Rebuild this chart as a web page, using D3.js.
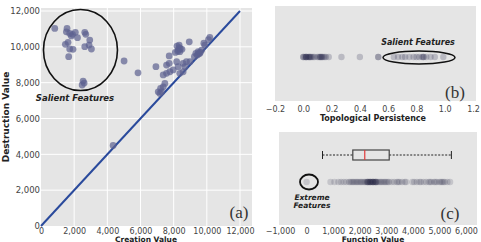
<!DOCTYPE html>
<html>
<head>
<meta charset="utf-8">
<script src="https://d3js.org/d3.v7.min.js"></script>
<style>
  body { margin: 0; background: #fff; }
  text { font-family: "DejaVu Sans", sans-serif; }
</style>
</head>
<body>
<script>
var width = 481;
var height = 242;

// (a) persistence diagram
var creation = [830, 1570, 1530, 1730, 1900, 2070, 1830, 2200, 2640, 2700, 2940, 1470, 1630, 1730,
  1930, 1670, 2640, 2900, 3040, 2540, 2480, 2600, 5010, 5850, 4350, 6930, 7730, 8330, 8270, 8370,
  8100, 8500, 8940, 9340, 9480, 9580, 9420, 9690, 9250, 9880, 7730, 7570, 8180, 8270, 7970, 7770,
  7570, 7370, 8370, 8570, 8680, 8980, 7470, 7370, 7210, 7070, 7270, 7170, 8570, 8330, 8200, 9820,
  10180, 8770, 8400, 8250, 9600, 9500, 10100];
var destruction = [11030, 11030, 10840, 10750, 10700, 10810, 10610, 10510, 10810, 10700, 10380, 10140, 10250, 9880,
  9860, 9450, 10010, 10100, 9880, 8090, 7870, 7980, 9210, 8550, 4500, 8890, 9490, 10100, 9820, 9730,
  9690, 9860, 10280, 9640, 9730, 9640, 9540, 9820, 9450, 10100, 9080, 8980, 9170, 8890, 8710, 8610,
  8520, 8430, 8520, 8610, 8890, 9170, 7960, 7770, 7680, 7490, 7490, 7400, 9080, 9950, 10040, 10200,
  10530, 9170, 9900, 9750, 9700, 9600, 10400];
var aTicks = [0, 2000, 4000, 6000, 8000, 10000, 12000];

// (b) topological persistence
var persistence = [0.0, 0.0, 0.01, 0.02, 0.02, 0.03, 0.04, 0.05, 0.05, 0.06, 0.07, 0.08, 0.10, 0.11,
  0.12, 0.12, 0.13, 0.14, 0.15, 0.16, 0.18, 0.02, 0.04, 0.13, 0.27, 0.40, 0.53, 0.53,
  0.64, 0.67, 0.70, 0.72, 0.75, 0.78, 0.80, 0.82, 0.84, 0.85, 0.85, 0.87, 0.90, 0.93, 0.99];
var bTicks = [-0.2, 0.0, 0.2, 0.4, 0.6, 0.8, 1.0, 1.2];

// (c) function values
var funcValues = [0, 900, 1050, 1200, 1300, 1400, 1500, 1600, 1650, 1700, 1750, 1800, 1850, 1900, 1950,
  2000, 2050, 2100, 2150, 2200, 2250, 2280, 2300, 2320, 2350, 2380, 2400, 2420, 2450, 2480, 2500,
  2520, 2550, 2580, 2600, 2620, 2650, 2700, 2750, 2800, 2850, 2900, 2950, 3000, 2300, 2400, 2500,
  2600, 3050, 3100, 3200, 3300, 3400, 3450, 3500, 3600, 3700, 3750, 3980, 4050, 4150, 4250, 4300,
  4400, 4500, 4600, 4650, 4700, 4800, 4850, 4900, 5000, 5050, 5100, 5150, 5200, 5300, 5400];
var boxStats = [600, 1740, 2190, 3110, 5450]; // whisker low, q1, median, q3, whisker high
var cTicks = [-1000, 0, 1000, 2000, 3000, 4000, 5000, 6000];

var fmt = d3.format(',');
var bg = '#e5e5e5';
var serif = '"Liberation Serif", "DejaVu Serif", serif';

var svg = d3.select('body').append('svg')
    .attr('width', width)
    .attr('height', height);

// ---------- panel (a) ----------
var ax = d3.scaleLinear().domain([0, 12000]).range([41, 240]);
var ay = d3.scaleLinear().domain([0, 12000]).range([226, 11]);

var ga = svg.append('g');
ga.append('rect')
    .attr('x', 41).attr('y', 8)
    .attr('width', 211).attr('height', 218)
    .attr('fill', bg);

ga.selectAll('.vgrid').data(aTicks.slice(1)).enter().append('line')
    .attr('x1', function(d) { return ax(d); })
    .attr('x2', function(d) { return ax(d); })
    .attr('y1', 8).attr('y2', 226)
    .attr('stroke', '#fff').attr('stroke-width', 1);
ga.selectAll('.hgrid').data(aTicks.slice(1)).enter().append('line')
    .attr('y1', function(d) { return ay(d); })
    .attr('y2', function(d) { return ay(d); })
    .attr('x1', 41).attr('x2', 252)
    .attr('stroke', '#fff').attr('stroke-width', 1);

ga.append('g')
    .attr('transform', 'translate(0,226)')
    .call(d3.axisBottom(ax).tickValues(aTicks).tickFormat(fmt).tickSize(0).tickPadding(2))
    .call(function(g) { g.select('.domain').remove(); })
    .selectAll('text').attr('font-size', 8).attr('fill', '#444');
ga.append('g')
    .attr('transform', 'translate(41,0)')
    .call(d3.axisLeft(ay).tickValues(aTicks).tickFormat(fmt).tickSize(0).tickPadding(1))
    .call(function(g) { g.select('.domain').remove(); })
    .selectAll('text').attr('font-size', 8.5).attr('fill', '#444');

ga.append('line')
    .attr('x1', ax(0)).attr('y1', ay(0))
    .attr('x2', ax(12000)).attr('y2', ay(12000))
    .attr('stroke', '#2a4a9c').attr('stroke-width', 2);

ga.selectAll('circle.pt').data(creation).enter().append('circle')
    .attr('class', 'pt')
    .attr('cx', function(d) { return ax(d); })
    .attr('cy', function(d, i) { return ay(destruction[i]); })
    .attr('r', 3.4)
    .attr('fill', '#5d6190')
    .attr('fill-opacity', 0.7);

ga.append('ellipse')
    .attr('cx', ax(2380)).attr('cy', ay(9820))
    .attr('rx', 37).attr('ry', 40.5)
    .attr('fill', 'none').attr('stroke', '#111').attr('stroke-width', 1.6);

ga.append('text')
    .attr('x', 75).attr('y', 101)
    .attr('text-anchor', 'middle')
    .attr('font-size', 8.5).attr('font-weight', 'bold').attr('font-style', 'italic')
    .attr('fill', '#222')
    .text('Salient Features');

ga.append('text')
    .attr('x', 239).attr('y', 218)
    .attr('text-anchor', 'middle')
    .style('font-family', serif).attr('font-size', 17)
    .attr('fill', '#333')
    .text('(a)');

ga.append('text')
    .attr('x', 146).attr('y', 241.5)
    .attr('text-anchor', 'middle')
    .attr('font-size', 7.5).attr('font-weight', 'bold').attr('fill', '#222')
    .text('Creation Value');
ga.append('text')
    .attr('transform', 'translate(9,117) rotate(-90)')
    .attr('text-anchor', 'middle')
    .attr('font-size', 9).attr('font-weight', 'bold').attr('fill', '#222')
    .text('Destruction Value');

// ---------- panel (b) ----------
var bx = d3.scaleLinear().domain([-0.2, 1.2]).range([275, 473]);
var gb = svg.append('g');
gb.append('rect')
    .attr('x', 275).attr('y', 6)
    .attr('width', 201).attr('height', 95)
    .attr('fill', bg);

gb.append('g')
    .attr('transform', 'translate(0,101)')
    .call(d3.axisBottom(bx).tickValues(bTicks).tickFormat(d3.format('.1f')).tickSize(0).tickPadding(5))
    .call(function(g) { g.select('.domain').remove(); })
    .selectAll('text').attr('font-size', 8).attr('fill', '#444');

gb.selectAll('circle').data(persistence).enter().append('circle')
    .attr('cx', function(d) { return bx(d); })
    .attr('cy', 57)
    .attr('r', 3.2)
    .attr('fill', '#26264a')
    .attr('fill-opacity', 0.22);

gb.append('ellipse')
    .attr('cx', 419).attr('cy', 57.5)
    .attr('rx', 36).attr('ry', 6.5)
    .attr('fill', 'none').attr('stroke', '#111').attr('stroke-width', 1.5);

gb.append('text')
    .attr('x', 418).attr('y', 45)
    .attr('text-anchor', 'middle')
    .attr('font-size', 8).attr('font-weight', 'bold').attr('font-style', 'italic')
    .attr('fill', '#222')
    .text('Salient Features');

gb.append('text')
    .attr('x', 455).attr('y', 98)
    .attr('text-anchor', 'middle')
    .style('font-family', serif).attr('font-size', 17)
    .attr('fill', '#333')
    .text('(b)');

gb.append('text')
    .attr('x', 373).attr('y', 121)
    .attr('text-anchor', 'middle')
    .attr('font-size', 8).attr('font-weight', 'bold').attr('fill', '#222')
    .text('Topological Persistence');

// ---------- panel (c) ----------
var cx = d3.scaleLinear().domain([-1000, 6000]).range([280, 466]);
var gc = svg.append('g');
gc.append('rect')
    .attr('x', 279).attr('y', 132)
    .attr('width', 198).attr('height', 93)
    .attr('fill', bg);

gc.append('g')
    .attr('transform', 'translate(0,225)')
    .call(d3.axisBottom(cx).tickValues(cTicks).tickFormat(fmt).tickSize(0).tickPadding(3))
    .call(function(g) { g.select('.domain').remove(); })
    .selectAll('text').attr('font-size', 8).attr('fill', '#444');

// box plot
var boxY = 155;
gc.append('line')
    .attr('x1', cx(boxStats[0])).attr('x2', cx(boxStats[1]))
    .attr('y1', boxY).attr('y2', boxY)
    .attr('stroke', '#222').attr('stroke-dasharray', '2,1.5');
gc.append('line')
    .attr('x1', cx(boxStats[3])).attr('x2', cx(boxStats[4]))
    .attr('y1', boxY).attr('y2', boxY)
    .attr('stroke', '#222').attr('stroke-dasharray', '2,1.5');
gc.selectAll('.cap').data([boxStats[0], boxStats[4]]).enter().append('line')
    .attr('x1', function(d) { return cx(d); })
    .attr('x2', function(d) { return cx(d); })
    .attr('y1', boxY - 4).attr('y2', boxY + 4)
    .attr('stroke', '#222');
gc.append('rect')
    .attr('x', cx(boxStats[1])).attr('y', boxY - 5)
    .attr('width', cx(boxStats[3]) - cx(boxStats[1])).attr('height', 10)
    .attr('fill', 'none').attr('stroke', '#444').attr('stroke-width', 1.2);
gc.append('line')
    .attr('x1', cx(boxStats[2])).attr('x2', cx(boxStats[2]))
    .attr('y1', boxY - 5).attr('y2', boxY + 5)
    .attr('stroke', '#e03a3a').attr('stroke-width', 1.2);

gc.selectAll('circle').data(funcValues).enter().append('circle')
    .attr('cx', function(d) { return cx(d); })
    .attr('cy', 182)
    .attr('r', 3.2)
    .attr('fill', '#1e1e40')
    .attr('fill-opacity', 0.16);

gc.append('ellipse')
    .attr('cx', 309).attr('cy', 182)
    .attr('rx', 9).attr('ry', 7.5)
    .attr('fill', 'none').attr('stroke', '#111').attr('stroke-width', 1.8);

gc.append('text')
    .attr('x', 312).attr('y', 200)
    .attr('text-anchor', 'middle')
    .attr('font-size', 7.5).attr('font-weight', 'bold').attr('font-style', 'italic')
    .attr('fill', '#222')
    .text('Extreme');
gc.append('text')
    .attr('x', 312).attr('y', 208)
    .attr('text-anchor', 'middle')
    .attr('font-size', 7.5).attr('font-weight', 'bold').attr('font-style', 'italic')
    .attr('fill', '#222')
    .text('Features');

gc.append('text')
    .attr('x', 450).attr('y', 219)
    .attr('text-anchor', 'middle')
    .style('font-family', serif).attr('font-size', 17)
    .attr('fill', '#333')
    .text('(c)');

gc.append('text')
    .attr('x', 373).attr('y', 241.5)
    .attr('text-anchor', 'middle')
    .attr('font-size', 7.5).attr('font-weight', 'bold').attr('fill', '#222')
    .text('Function Value');
</script>
</body>
</html>
